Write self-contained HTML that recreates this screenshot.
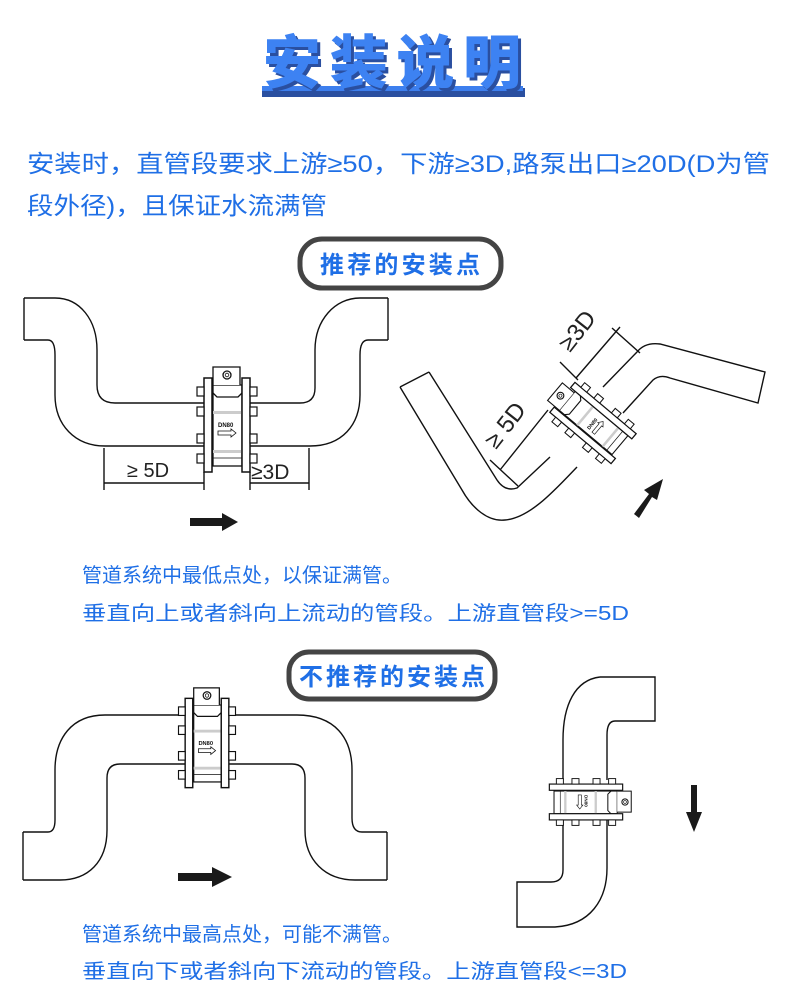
<!DOCTYPE html>
<html><head><meta charset="utf-8"><style>
html,body{margin:0;padding:0;background:#fff}
svg{display:block}
.cj{font-family:"Liberation Sans","Noto Sans CJK SC",sans-serif}
</style></head><body>
<svg width="800" height="1000" viewBox="0 0 800 1000" xmlns="http://www.w3.org/2000/svg">
<defs>
<g id="m">
  <rect x="-14" y="-40" width="29" height="81" fill="#fff" stroke="#111" stroke-width="1.3"/>
  <path d="M-14,-40 L-14,-58 L13,-58 L13,-40 M-14,-32 L-10,-28 L11,-28 L15,-32" fill="#fff" stroke="#111" stroke-width="1.3"/>
  <circle cx="0" cy="-50" r="4" fill="none" stroke="#111" stroke-width="1.3"/>
  <circle cx="0" cy="-50" r="1.8" fill="none" stroke="#111" stroke-width="0.8"/>
  <rect x="-14" y="-14" width="29" height="3" fill="#ccc"/>
  <rect x="-14" y="25" width="29" height="3" fill="#ccc"/>
  <line x1="-14" y1="33" x2="15" y2="33" stroke="#111" stroke-width="0.8"/>
  <text x="-9" y="2" font-family="Liberation Sans" font-size="6" font-weight="bold" fill="#111">DN80</text>
  <path d="M-9,6 L4,6 L4,4 L9,8 L4,12 L4,10 L-9,10 Z" fill="#fff" stroke="#111" stroke-width="0.8"/>
  <rect x="-23" y="-47" width="8" height="94" fill="#fff" stroke="#111" stroke-width="1.5"/>
  <rect x="15" y="-47" width="8" height="94" fill="#fff" stroke="#111" stroke-width="1.5"/>
  <g fill="#fff" stroke="#111" stroke-width="1.2">
    <rect x="-30" y="-38" width="7" height="9"/><rect x="-30" y="-18" width="7" height="9"/>
    <rect x="-30" y="9" width="7" height="9"/><rect x="-30" y="29" width="7" height="9"/>
    <rect x="23" y="-38" width="7" height="9"/><rect x="23" y="-18" width="7" height="9"/>
    <rect x="23" y="9" width="7" height="9"/><rect x="23" y="29" width="7" height="9"/>
  </g>
</g>
</defs>

<!-- Title -->
<rect x="262" y="88" width="263" height="9" fill="#2a4fa0"/>
<rect x="262" y="86" width="261" height="5" fill="#3d7fee"/>
<text x="266" y="86" class="cj" font-size="58" font-weight="900" fill="#2a4fa0" textLength="258">安装说明</text>
<text x="263" y="83" class="cj" font-size="58" font-weight="900" fill="#3d82f2" textLength="258">安装说明</text>

<!-- paragraph -->
<g class="cj" font-size="24" fill="#1f6fe6">
<text x="27" y="172" textLength="743" lengthAdjust="spacingAndGlyphs">安装时，直管段要求上游≥50，下游≥3D,路泵出口≥20D(D为管</text>
<text x="27" y="214" textLength="300" lengthAdjust="spacingAndGlyphs">段外径)，且保证水流满管</text>
</g>

<!-- pill 1 -->
<rect x="300" y="239" width="201" height="49" rx="22" fill="#fff" stroke="#444" stroke-width="5"/>
<text x="320" y="273" class="cj" font-size="24" font-weight="bold" fill="#1f6fe6" textLength="160">推荐的安装点</text>

<!-- top-left pipe -->
<g fill="none" stroke="#111" stroke-width="1.4">
  <path d="M24,298 L24,340 M24,298 L55,298 C80,298 97,320 97,350 L97,385 Q97,403 115,403 L204,403"/>
  <path d="M24,340 L48,340 Q55,340 55,355 L55,395 C55,425 75,446 105,446 L204,446"/>
  <path d="M388,298 L388,340 M388,298 L360,298 C335,298 315,320 315,350 L315,388 Q315,403 300,403 L250,403"/>
  <path d="M388,340 L368,340 Q360,340 360,355 L360,395 C360,425 342,446 310,446 L250,446"/>
  <path d="M104,448 L104,490 M204,472 L204,490 M250,472 L250,490 M309,448 L309,490 M104,483 L204,483 M250,483 L309,483"/>
</g>
<use href="#m" transform="translate(227,425)"/>
<text x="127" y="477" font-family="Liberation Sans, DejaVu Sans" font-size="20" fill="#222">≥ 5D</text>
<text x="251" y="479" font-family="Liberation Sans, DejaVu Sans" font-size="21" fill="#222">≥3D</text>
<path d="M190,518 L222,518 L222,513 L238,522 L222,531 L222,526 L190,526 Z" fill="#1a1a1a"/>

<!-- top-right tilted -->
<g fill="none" stroke="#111" stroke-width="1.4">
  <path d="M400,387 L429,372 M400,387 L462,490 C472,508 488,522 505,520 C530,518 555,490 577,467"/>
  <path d="M429,372 L497,480 Q505,492 517,488 L550,457"/>
  <path d="M623,413 L653,380 Q660,374 670,378 L758,403 L765,372 L660,344 Q645,342 637,352 L603,387"/>
  <path d="M500,470 L548,410 M576,378 L620,327 M490,460 L518,486 M612,328 L640,353 M578,380 L560,362"/>
</g>
<use href="#m" transform="translate(593,423) rotate(-50) scale(0.85)"/>
<text x="0" y="0" font-family="Liberation Sans, DejaVu Sans" font-size="24" fill="#222" transform="translate(496,450) rotate(-52)">≥ 5D</text>
<text x="0" y="0" font-family="Liberation Sans, DejaVu Sans" font-size="24" fill="#222" transform="translate(570,353) rotate(-52)">≥3D</text>
<path d="M634,514 L649,494 L644,490 L663,479 L657,500 L652,497 L639,518 Z" fill="#1a1a1a"/>

<!-- captions 1 -->
<g class="cj" font-size="20" fill="#1f6fe6">
<text x="82" y="582">管道系统中最低点处，以保证满管。</text>
<text x="82" y="620" textLength="547" lengthAdjust="spacingAndGlyphs">垂直向上或者斜向上流动的管段。上游直管段&gt;=5D</text>
</g>

<!-- pill 2 -->
<rect x="289" y="652" width="206" height="47" rx="20" fill="#fff" stroke="#444" stroke-width="5"/>
<text x="299" y="685" class="cj" font-size="24" font-weight="bold" fill="#1f6fe6" textLength="186">不推荐的安装点</text>

<!-- bottom-left pipe -->
<g fill="none" stroke="#111" stroke-width="1.4">
  <path d="M23,832 L23,880 M23,832 L48,832 Q55,832 55,820 L55,770 C55,738 72,715 105,715 L187,715"/>
  <path d="M23,880 L60,880 C88,880 107,862 107,830 L107,778 Q107,764 120,764 L187,764"/>
  <path d="M387,832 L387,880 M387,832 L362,832 Q352,832 352,818 L352,770 C352,738 335,715 297,715 L228,715"/>
  <path d="M387,880 L355,880 C325,880 305,860 305,830 L305,778 Q305,764 292,764 L228,764"/>
</g>
<use href="#m" transform="translate(207,743) scale(0.95)"/>
<path d="M178,873 L212,873 L212,867 L232,877 L212,887 L212,881 L178,881 Z" fill="#1a1a1a"/>

<!-- bottom-right pipe -->
<g fill="none" stroke="#111" stroke-width="1.4">
  <path d="M600,677 L655,677 L655,721 L615,721 Q607,721 607,735 L607,780"/>
  <path d="M600,677 C575,680 563,705 563,740 L563,780"/>
  <path d="M563,820 L563,870 Q563,882 551,882 L517,882 L517,927 L555,927 C590,925 607,900 607,868 L607,820"/>
</g>
<use href="#m" transform="translate(586,802) rotate(90) scale(0.78)"/>
<path d="M691,785 L697,785 L697,812 L702,812 L694,832 L686,812 L691,812 Z" fill="#1a1a1a"/>

<!-- captions 2 -->
<g class="cj" font-size="20" fill="#1f6fe6">
<text x="82" y="941">管道系统中最高点处，可能不满管。</text>
<text x="82" y="978" textLength="545" lengthAdjust="spacingAndGlyphs">垂直向下或者斜向下流动的管段。上游直管段&lt;=3D</text>
</g>
</svg>
</body></html>
